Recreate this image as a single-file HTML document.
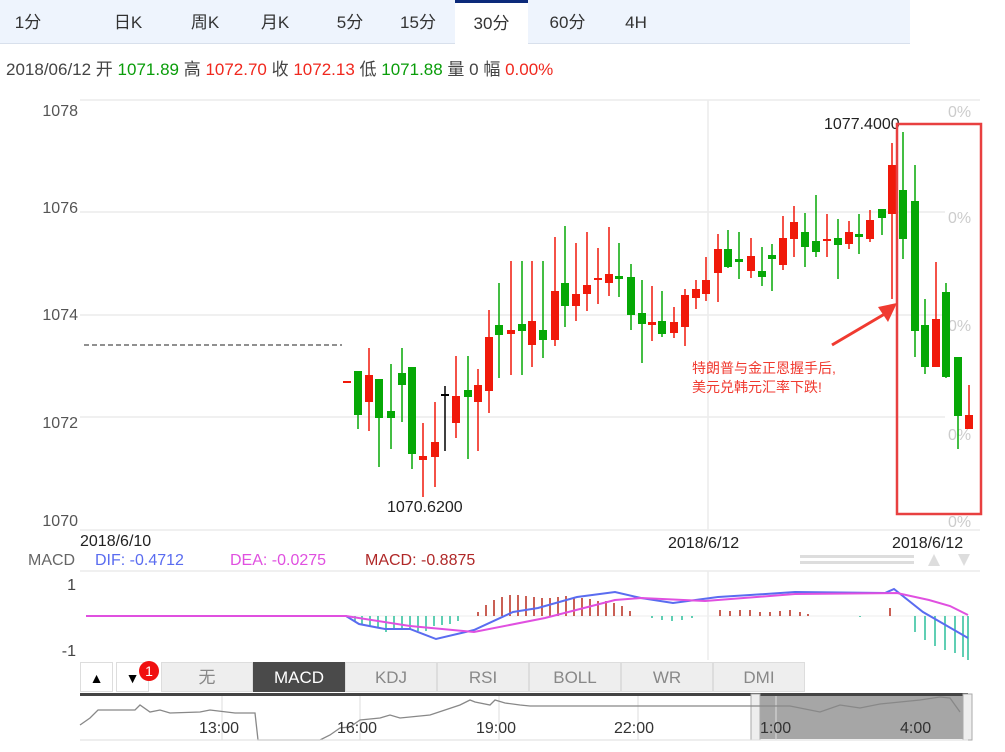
<!DOCTYPE html>
<html><head><meta charset="utf-8"><style>
body{margin:0;width:1005px;height:752px;background:#fff;font-family:"Liberation Sans","Noto Sans CJK SC",sans-serif;overflow:hidden;position:relative}
.tabs{position:absolute;left:0;top:0;width:910px;height:43px;background:#eef4fd;border-bottom:1px solid #d8e0ec}
.tab{position:absolute;top:0;height:43px;line-height:46px;font-size:17px;color:#333;text-align:center}
.act{background:#fff;border-top:3px solid #0c2a7a;height:41px;line-height:42px}
.info{position:absolute;left:6px;top:55px;font-size:17px;color:#444;white-space:nowrap}
.g{color:#0a9d0a}.r{color:#f0281e}
.btn{position:absolute;top:662px;height:30px;line-height:30px;text-align:center;font-size:17px;color:#888;background:#eee;border:1px solid #ddd;box-sizing:border-box}
</style></head><body>
<div class="tabs">
<div class="tab" style="left:3px;width:50px">1分</div>
<div class="tab" style="left:103px;width:50px">日K</div>
<div class="tab" style="left:180px;width:50px">周K</div>
<div class="tab" style="left:250px;width:50px">月K</div>
<div class="tab" style="left:325px;width:50px">5分</div>
<div class="tab" style="left:388px;width:60px">15分</div>
<div class="tab act" style="left:455px;width:73px">30分</div>
<div class="tab" style="left:535px;width:65px">60分</div>
<div class="tab" style="left:606px;width:60px">4H</div>
</div>
<div class="info">2018/06/12 开 <span class="g">1071.89</span> 高 <span class="r">1072.70</span> 收 <span class="r">1072.13</span> 低 <span class="g">1071.88</span> 量 0 幅 <span class="r">0.00%</span></div>
<svg width="1005" height="752" style="position:absolute;left:0;top:0" font-family="Liberation Sans, Noto Sans CJK SC, sans-serif">
<g stroke="#ececec" stroke-width="1.5">
<line x1="80" y1="100" x2="980" y2="100"/>
<line x1="80" y1="212" x2="945" y2="212"/>
<line x1="80" y1="315" x2="945" y2="315"/>
<line x1="80" y1="417" x2="945" y2="417"/>
<line x1="80" y1="530" x2="980" y2="530"/>
<line x1="708" y1="100" x2="708" y2="530"/>
<line x1="80" y1="571" x2="980" y2="571"/>
<line x1="708" y1="571" x2="708" y2="660"/>
</g>
<g font-size="16" fill="#555" text-anchor="end">
<text x="78" y="116">1078</text><text x="78" y="213">1076</text><text x="78" y="320">1074</text><text x="78" y="428">1072</text><text x="78" y="526">1070</text>
</g>
<g font-size="16" fill="#ccc"><text x="948" y="117">0%</text><text x="948" y="223">0%</text><text x="948" y="331">0%</text><text x="948" y="440">0%</text><text x="948" y="527">0%</text></g>
<line x1="84" y1="345" x2="342" y2="345" stroke="#222" stroke-dasharray="5,3"/>
<g font-size="16" fill="#222"><text x="80" y="546">2018/6/10</text><text x="668" y="548">2018/6/12</text><text x="892" y="548">2018/6/12</text>
<text x="387" y="512">1070.6200</text><text x="824" y="129">1077.4000</text></g>
<g id="c"></g>
<rect x="897" y="124" width="84" height="390" fill="none" stroke="#e84040" stroke-width="2.5"/>
<line x1="832" y1="345" x2="888" y2="312" stroke="#f03a30" stroke-width="3"/>
<polygon points="897,303 878,307 888,322" fill="#f03a30"/>
<text x="692" y="373" font-size="14" fill="#f03a30">特朗普与金正恩握手后,</text>
<text x="692" y="392" font-size="14" fill="#f03a30">美元兑韩元汇率下跌!</text>
<text x="28" y="565" font-size="16" fill="#666">MACD</text>
<text x="95" y="565" font-size="16" fill="#5a6cf0">DIF: -0.4712</text>
<text x="230" y="565" font-size="16" fill="#e050e0">DEA: -0.0275</text>
<text x="365" y="565" font-size="16" fill="#b02828">MACD: -0.8875</text>
<g fill="#ddd"><rect x="800" y="555" width="114" height="3"/><rect x="800" y="561" width="114" height="3"/></g>
<polygon points="928,566 934,554 940,566" fill="#ddd"/><polygon points="958,554 970,554 964,566" fill="#ddd"/>
<text x="76" y="590" font-size="16" fill="#444" text-anchor="end">1</text>
<text x="76" y="656" font-size="16" fill="#444" text-anchor="end">-1</text>
<line x1="86" y1="616" x2="968" y2="616" stroke="#eee"/>
<g id="h"></g>
<polyline fill="none" stroke="#5a6cf0" stroke-width="2" points="86,616 346,616 359,624 385,629 410,629 436,639 474,630 513,612 538,608 577,597 615,592 641,598 673,603 718,597 750,595 795,592 885,593 894,589 923,612 968,638"/>
<polyline fill="none" stroke="#e050e0" stroke-width="2" points="86,616 346,616 410,626 474,632 545,618 615,600 641,598 705,601 795,594 897,593 929,600 950,606 968,615"/>
<rect x="80" y="693" width="888" height="3" fill="#444"/>
<rect x="755" y="696" width="213" height="43" fill="#a6a6a6"/>
<rect x="751" y="694" width="9" height="46" fill="#eee" stroke="#aaa"/>
<rect x="963" y="694" width="9" height="46" fill="#eee" stroke="#aaa"/>
<g stroke="#ddd"><line x1="222" y1="696" x2="222" y2="740"/><line x1="360" y1="696" x2="360" y2="740"/><line x1="499" y1="696" x2="499" y2="740"/><line x1="638" y1="696" x2="638" y2="740"/><line x1="776" y1="696" x2="776" y2="740"/></g>
<polyline fill="none" stroke="#888" stroke-width="1.3" points="80,725 90,718 98,710 135,710 140,705 150,712 160,710 170,713 200,712 210,710 235,713 255,713 258,740 265,740 320,740 330,735 340,728 350,727 360,720 380,718 390,715 400,718 430,715 460,705 470,700 475,702 490,705 495,700 505,703 520,705 530,706 700,706 760,706 790,706 820,712 840,705 860,708 880,704 900,702 920,700 940,697 950,698 960,712"/>
<g font-size="16" fill="#333"><text x="199" y="733">13:00</text><text x="337" y="733">16:00</text><text x="476" y="733">19:00</text><text x="614" y="733">22:00</text><text x="760" y="733">1:00</text><text x="900" y="733">4:00</text></g>
<line x1="80" y1="740" x2="968" y2="740" stroke="#ddd"/>
</svg>
<div class="btn" style="left:80px;width:33px;color:#000;background:#fff;font-size:14px">▲</div>
<div class="btn" style="left:116px;width:33px;color:#000;background:#fff;font-size:14px">▼</div>
<div style="position:absolute;left:139px;top:661px;width:20px;height:20px;border-radius:10px;background:#f01010;color:#fff;font-size:14px;text-align:center;line-height:20px">1</div>
<div class="btn" style="left:161px;width:92px">无</div>
<div class="btn" style="left:253px;width:92px;background:#4a4a4a;color:#fff;border-color:#4a4a4a">MACD</div>
<div class="btn" style="left:345px;width:92px">KDJ</div>
<div class="btn" style="left:437px;width:92px">RSI</div>
<div class="btn" style="left:529px;width:92px">BOLL</div>
<div class="btn" style="left:621px;width:92px">WR</div>
<div class="btn" style="left:713px;width:92px">DMI</div>
<script>
var R="#f0190a",G="#06a806",K="#000";
var d=[[347,381,382,381,382,R],[358,371,415,371,429,G],[369,375,402,348,431,R],[379,379,418,379,467,G],[391,411,418,364,449,G],[402,373,385,348,422,G],[412,367,454,367,469,G],[423,456,460,423,497,R],[435,442,457,402,487,R],[445,394,396,386,451,K],[456,396,423,356,438,R],[468,390,397,356,459,G],[478,385,402,369,451,R],[489,337,391,310,413,R],[499,325,335,283,378,G],[511,330,334,261,375,R],[522,324,331,261,375,G],[532,321,345,261,367,R],[543,330,340,261,358,G],[555,291,340,237,346,R],[565,283,306,226,327,G],[576,294,306,243,321,R],[587,285,294,232,311,R],[598,278,280,248,304,R],[609,274,283,227,296,R],[619,276,279,243,297,G],[631,277,315,264,330,G],[642,313,324,280,363,G],[652,322,325,286,341,R],[662,321,334,291,337,G],[674,322,333,307,338,R],[685,295,327,289,346,R],[696,289,298,280,309,R],[706,280,294,257,301,R],[718,249,273,234,302,R],[728,249,267,230,268,G],[739,259,262,232,279,G],[751,256,271,238,278,R],[762,271,277,247,286,G],[772,255,259,244,291,G],[783,238,265,216,270,R],[794,222,239,206,257,R],[805,232,247,213,267,G],[816,241,252,195,257,G],[827,239,241,214,257,R],[838,238,245,219,279,G],[849,232,244,221,249,R],[859,234,237,214,254,G],[870,220,239,210,242,R],[882,209,218,209,235,G],[892,165,214,143,299,R],[903,190,239,132,259,G],[915,201,331,165,357,G],[925,325,367,299,374,G],[936,319,367,262,367,R],[946,292,377,283,378,G],[958,357,416,357,449,G],[969,415,429,385,429,R]];
var s="";d.forEach(function(c){s+='<line x1="'+c[0]+'" x2="'+c[0]+'" y1="'+c[3]+'" y2="'+c[4]+'" stroke="'+c[5]+'" stroke-width="1.5"/><rect x="'+(c[0]-4)+'" y="'+c[1]+'" width="8" height="'+Math.max(2,c[2]-c[1])+'" fill="'+c[5]+'"/>';});
document.getElementById("c").innerHTML=s;
var h="",hb=[[355,622],[362,624],[370,626],[378,628],[386,632],[394,629],[402,628],[410,630],[418,631],[426,631],[434,626],[442,625],[450,624],[458,621],[478,612],[486,605],[494,600],[502,597],[510,595],[518,595],[526,596],[534,597],[542,598],[550,598],[558,597],[566,596],[574,597],[582,598],[590,599],[598,601],[606,601],[614,603],[622,606],[630,611],[652,618],[662,620],[672,621],[682,620],[692,618],[720,610],[730,611],[740,610],[750,610],[760,612],[770,612],[780,611],[790,610],[800,612],[808,614],[860,617],[890,608],[915,632],[925,640],[935,646],[945,650],[955,653],[963,657],[968,660]];
hb.forEach(function(b){var c=b[1]<616?"#b82a1c":"#2bbf9a";h+='<line x1="'+b[0]+'" x2="'+b[0]+'" y1="616" y2="'+b[1]+'" stroke="'+c+'" stroke-width="1.5"/>';});
document.getElementById("h").innerHTML=h;
</script>
</body></html>
